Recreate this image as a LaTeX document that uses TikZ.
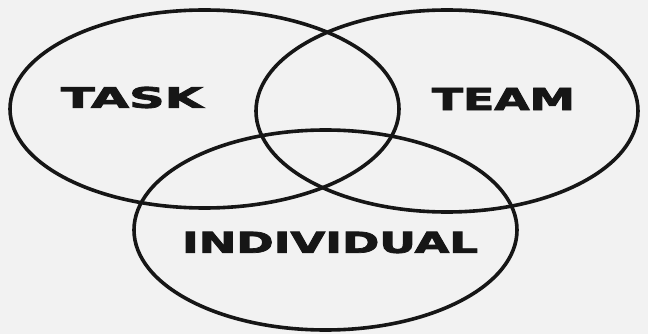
\documentclass[tikz,border=0pt]{standalone}
\usepackage{fontspec}
\usetikzlibrary{shapes.geometric}
\newfontfamily\lblfont{DejaVu Sans Bold}[FakeBold=2.5]
\definecolor{paper}{RGB}{242,242,242}
\definecolor{ink}{RGB}{22,22,22}
\begin{document}
\begin{tikzpicture}[x=1pt,y=-1pt,
  venn/.style={ellipse, draw=ink, line width=3.6pt, inner sep=0pt},
  lbl/.style={inner sep=0pt, text=ink, anchor=center}]
\fill[paper] (0,0) rectangle (648,334);
\useasboundingbox (0,0) rectangle (648,334);
\node[venn, minimum width=389pt, minimum height=198pt] (task) at (204.5,109) {};
\node[venn, minimum width=382pt, minimum height=202pt] (team) at (447,111) {};
\node[venn, minimum width=383pt, minimum height=200pt] (indiv) at (325.5,230) {};
\node[lbl] (tasklbl) at (132,97.5) {\resizebox{142pt}{21pt}{\lblfont TASK}};
\node[lbl] (teamlbl) at (503.5,99) {\resizebox{143pt}{22pt}{\lblfont TEAM}};
\node[lbl] (indivlbl) at (330,242.5) {\resizebox{296pt}{21pt}{\lblfont INDIVIDUAL}};
\end{tikzpicture}
\end{document}
